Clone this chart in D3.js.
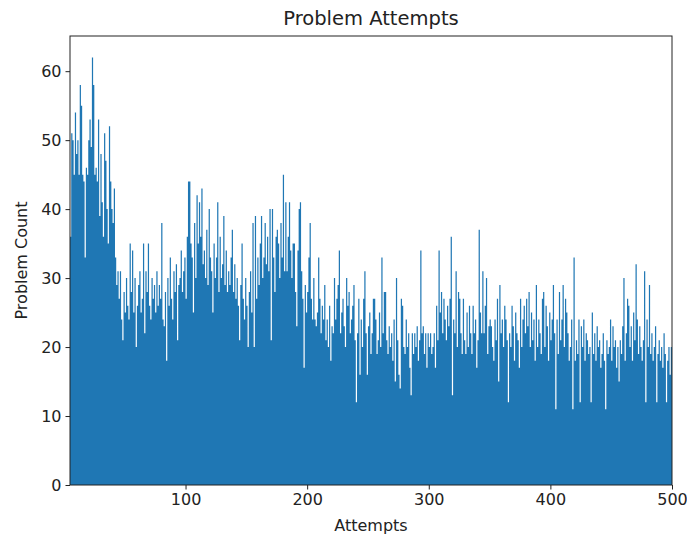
<!DOCTYPE html>
<html>
<head>
<meta charset="utf-8">
<script src="https://cdn.jsdelivr.net/npm/d3@7"></script>
<style>
  body { margin: 0; background: #fff; }
  svg text { font-family: "DejaVu Sans", sans-serif; fill: #222; }
</style>
</head>
<body>
<svg id="chart" width="687" height="539"></svg>
<script>
// problem counts per attempt number, starting at attempt 5
const firstAttempt = 5;
const counts = [
    36, 51, 50, 45, 54, 48, 50, 45, 58, 55,
    45, 44, 33, 46, 45, 50, 53, 49, 62, 58,
    45, 46, 44, 53, 39, 48, 41, 36, 51, 47,
    40, 35, 52, 44, 40, 38, 43, 33, 29, 31,
    27, 31, 24, 21, 28, 25, 30, 26, 24, 35,
    28, 34, 25, 30, 20, 26, 29, 31, 25, 27,
    35, 22, 31, 28, 35, 26, 24, 30, 27, 29,
    25, 31, 26, 29, 27, 38, 24, 23, 28, 18,
    30, 26, 33, 27, 24, 31, 28, 32, 21, 29,
    30, 34, 28, 31, 33, 27, 36, 44, 44, 35,
    33, 25, 38, 30, 42, 35, 41, 36, 43, 32,
    34, 30, 37, 29, 40, 33, 31, 25, 35, 30,
    33, 41, 28, 36, 30, 32, 39, 29, 34, 28,
    31, 29, 33, 37, 28, 32, 27, 30, 26, 21,
    29, 35, 27, 24, 30, 26, 20, 28, 31, 25,
    38, 20, 39, 27, 33, 29, 35, 39, 30, 33,
    38, 32, 36, 31, 40, 21, 40, 33, 28, 36,
    37, 35, 30, 38, 33, 45, 31, 41, 31, 36,
    41, 34, 30, 35, 35, 28, 23, 34, 40, 41,
    31, 27, 17, 29, 25, 28, 33, 38, 27, 24,
    30, 24, 23, 25, 33, 27, 22, 26, 24, 29,
    21, 24, 20, 26, 18, 23, 22, 30, 24, 27,
    29, 34, 22, 25, 27, 23, 20, 30, 26, 28,
    22, 24, 26, 29, 21, 12, 22, 27, 16, 24,
    20, 27, 31, 22, 16, 23, 25, 19, 22, 27,
    27, 24, 19, 21, 25, 20, 33, 22, 28, 28,
    21, 19, 23, 20, 22, 18, 24, 15, 30, 21,
    16, 14, 27, 26, 20, 19, 24, 20, 22, 17,
    13, 22, 19, 22, 20, 23, 18, 21, 34, 22,
    23, 19, 22, 17, 22, 20, 22, 19, 20, 22,
    17, 26, 21, 34, 25, 28, 22, 27, 24, 21,
    26, 23, 27, 36, 13, 24, 22, 31, 20, 28,
    27, 22, 19, 27, 21, 19, 25, 20, 26, 22,
    19, 26, 22, 24, 17, 21, 37, 25, 22, 31,
    22, 26, 30, 19, 23, 24, 23, 20, 18, 24,
    21, 27, 15, 29, 22, 24, 20, 26, 24, 21,
    12, 22, 20, 26, 23, 18, 25, 22, 21, 17,
    27, 20, 24, 26, 22, 27, 23, 28, 20, 25,
    21, 24, 18, 29, 20, 24, 22, 19, 27, 28,
    20, 26, 23, 18, 25, 21, 24, 29, 22, 11,
    24, 19, 28, 21, 24, 29, 20, 27, 25, 22,
    18, 20, 24, 11, 33, 18, 21, 19, 24, 12,
    23, 20, 24, 18, 22, 21, 19, 20, 12, 25,
    19, 22, 18, 23, 20, 21, 17, 19, 22, 18,
    11, 21, 19, 20, 24, 18, 23, 20, 21, 17,
    20, 15, 21, 19, 23, 30, 18, 22, 27, 26,
    20, 23, 18, 25, 21, 32, 24, 19, 23, 20,
    18, 21, 31, 12, 24, 20, 29, 19, 22, 18,
    20, 23, 12, 19, 21, 18, 20, 17, 22, 19,
    12, 18, 20, 16, 20
];

const xTicks = [100, 200, 300, 400, 500];
const yTicks = [0, 10, 20, 30, 40, 50, 60];

const svg = d3.select('#chart');
const margin = { top: 36, right: 15, bottom: 54, left: 70 };
const width = +svg.attr('width');
const height = +svg.attr('height');
const plotW = width - margin.left - margin.right;
const plotH = height - margin.top - margin.bottom;

const bins = counts.map((c, i) => ({ x0: firstAttempt + i, x1: firstAttempt + i + 1, n: c }));
const lastAttempt = bins[bins.length - 1].x1;

const x = d3.scaleLinear()
    .domain([firstAttempt, lastAttempt])
    .range([0, plotW]);

const y = d3.scaleLinear()
    .domain([0, d3.max(counts) * 1.05])
    .range([plotH, 0]);

const g = svg.append('g')
    .attr('transform', `translate(${margin.left},${margin.top})`);

// bars drawn as one stepped area so neighbouring bins don't leave seams
const steps = bins.map(d => [d.x0, d.n]).concat([[lastAttempt, bins[bins.length - 1].n]]);
const area = d3.area()
    .curve(d3.curveStepAfter)
    .x(d => x(d[0]))
    .y0(y(0))
    .y1(d => y(d[1]));

g.append('path')
    .datum(steps)
    .attr('d', area)
    .attr('fill', '#1f77b4');

// axes
const xAxis = g.append('g')
    .attr('transform', `translate(0,${plotH})`)
    .call(d3.axisBottom(x).tickValues(xTicks).tickSize(4.5).tickPadding(4));

const yAxis = g.append('g')
    .call(d3.axisLeft(y).tickValues(yTicks).tickSize(4.5).tickPadding(4));

[xAxis, yAxis].forEach(a => {
    a.select('.domain').remove();
    a.selectAll('line').attr('stroke', '#222').attr('stroke-width', 1);
    a.selectAll('text').attr('font-size', 16).attr('fill', '#222');
});

// frame around the plot
g.append('rect')
    .attr('width', plotW)
    .attr('height', plotH)
    .attr('fill', 'none')
    .attr('stroke', '#222')
    .attr('stroke-width', 1);

svg.append('text')
    .attr('x', margin.left + plotW / 2)
    .attr('y', 25)
    .attr('text-anchor', 'middle')
    .attr('font-size', 19.5)
    .text('Problem Attempts');

svg.append('text')
    .attr('x', margin.left + plotW / 2)
    .attr('y', 531)
    .attr('text-anchor', 'middle')
    .attr('font-size', 16)
    .text('Attempts');

svg.append('text')
    .attr('transform', `translate(27,${margin.top + plotH / 2}) rotate(-90)`)
    .attr('text-anchor', 'middle')
    .attr('font-size', 16)
    .text('Problem Count');
</script>
</body>
</html>
